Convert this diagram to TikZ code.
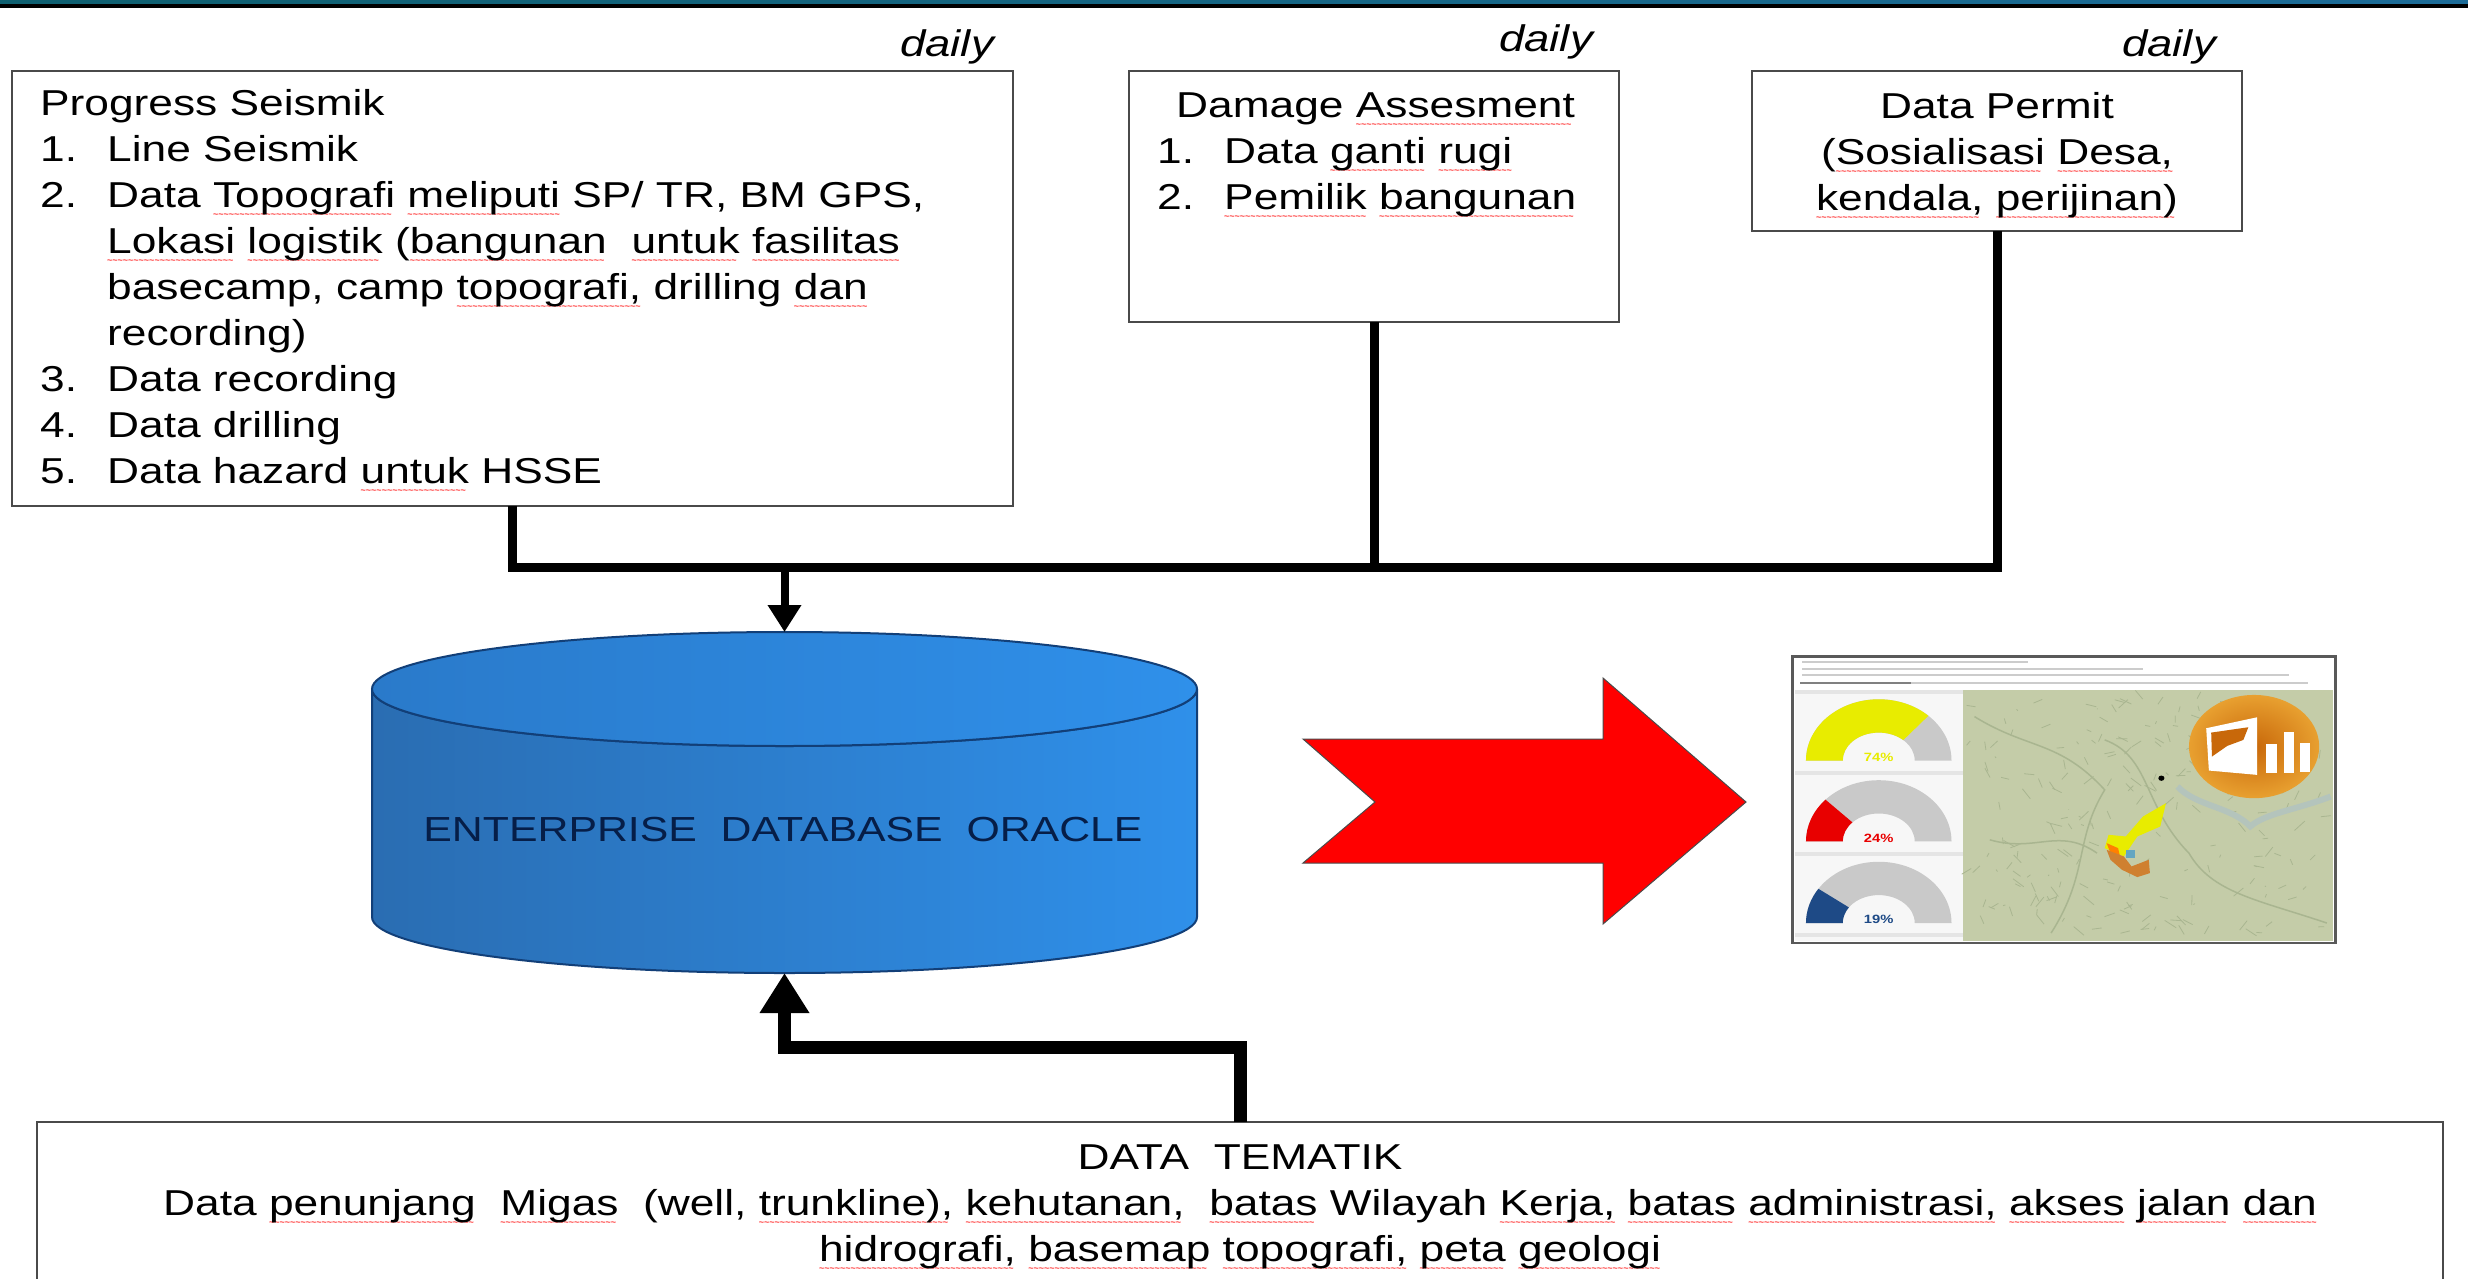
\documentclass[tikz,border=0pt]{standalone}
\usepackage{fontspec}
\usetikzlibrary{arrows.meta}
\usetikzlibrary{positioning}
\setmainfont[FakeStretch=1.23]{Liberation Sans}
\newfontfamily\wavefont{Liberation Sans}

\definecolor{bandleft}{HTML}{0F6070}
\definecolor{bandmid}{HTML}{3F9C98}
\definecolor{bandright}{HTML}{1D6C98}
\definecolor{boxline}{HTML}{4A4A4A}
\definecolor{dbline}{HTML}{123F78}
\definecolor{dbdark}{HTML}{2A6DB2}
\definecolor{dbbright}{HTML}{2F90EA}
\definecolor{dbtopdark}{HTML}{2A7ACA}
\definecolor{dbtext}{HTML}{061E48}
\definecolor{mapgreen}{HTML}{C4CCA8}
\definecolor{mapline}{HTML}{A9B590}
\definecolor{mapriver}{HTML}{B4C4BC}
\definecolor{gaugegray}{HTML}{C9C9C9}
\definecolor{gaugeyellow}{HTML}{E8EC00}
\definecolor{gaugered}{HTML}{E80000}
\definecolor{gaugeblue}{HTML}{1E4A86}
\definecolor{logodark}{HTML}{C8680A}
\definecolor{logoglow}{HTML}{E8A030}

% red wavy mark under a word
\newcommand{\sq}[1]{\leavevmode\setbox0\hbox{#1}\rlap{\lower10pt\hbox to\wd0{\leaders\hbox{\wavefont\bfseries\fontsize{9}{9}\selectfont\textcolor{red!80}{\char`\~}}\hfill}}\box0\relax}
\newcommand{\listnum}[1]{\makebox[67pt][l]{#1}}

\tikzset{
  bodytext/.style={font=\fontsize{36}{46}\selectfont, inner sep=0pt, text=black},
  dailytext/.style={font=\fontsize{37}{40}\selectfont\itshape, inner sep=0pt},
  infobox/.style={draw=boxline, line width=2.5pt, fill=white, inner sep=0pt, outer sep=0pt},
  busline/.style={line width=9pt, black},
  feedarrow/.style={line width=8pt, black, -{Triangle[length=27pt,width=32pt]}},
  thematicarrow/.style={line width=13pt, black, -{Triangle[length=40pt,width=47pt]}},
  gaugetext/.style={font=\fontsize{12}{12}\selectfont\bfseries, inner sep=0pt}
}

\begin{document}
\begin{tikzpicture}[x=1pt, y=-1pt]

\path[use as bounding box, clip] (0,0) rectangle (2468,1278);
\fill[white] (0,0) rectangle (2468,1278);

% top band
\shade[left color=bandleft, middle color=bandmid, right color=bandright] (0,0) rectangle (2468,5);
\fill[black] (0,4) rectangle (2468,8);

% source boxes
\node[infobox, minimum width=1001pt, minimum height=435pt] (seismicbox) at (512.5,288.5) {};
\node[infobox, minimum width=490pt, minimum height=251pt] (damagebox) at (1374,196.5) {};
\node[infobox, minimum width=490pt, minimum height=160pt] (permitbox) at (1997,151) {};
\node[infobox, minimum width=2406pt, minimum height=170pt] (tematikbox) at (1240,1207) {};

\node[dailytext] (dailyseismic) at (947,47) {daily};
\node[dailytext] (dailydamage) at (1546,42) {daily};
\node[dailytext] (dailypermit) at (2169,47) {daily};

\node[bodytext, align=left, anchor=west] (seismictext) at (40,291) {Progress Seismik\\
\listnum{1.}Line Seismik\\
\listnum{2.}Data \sq{Topografi} \sq{meliputi} SP/ TR, BM GPS,\\
\listnum{}\sq{Lokasi} \sq{logistik} (\sq{bangunan} \ \sq{untuk} \sq{fasilitas}\\
\listnum{}basecamp, camp \sq{topografi,} drilling \sq{dan}\\
\listnum{}recording)\\
\listnum{3.}Data recording\\
\listnum{4.}Data drilling\\
\listnum{5.}Data hazard \sq{untuk} HSSE};

\node[bodytext, align=left, anchor=west] (damagetext) at (1157,156) {\hspace*{19pt}Damage \sq{Assesment}\\
\listnum{1.}Data \sq{ganti} \sq{rugi}\\
\listnum{2.}\sq{Pemilik} \sq{bangunan}};

\node[bodytext, align=center] (permittext) at (1997,156) {Data Permit\\
(\sq{Sosialisasi} \sq{Desa,}\\
\sq{kendala,} \sq{perijinan)}};

\node[bodytext, align=center] (tematiktext) at (1240,1208) {DATA \ TEMATIK\\
Data \sq{penunjang} \ \sq{Migas} \ (well, \sq{trunkline),} \sq{kehutanan,} \ \sq{batas} Wilayah \sq{Kerja,} \sq{batas} \sq{administrasi,} \sq{akses} \sq{jalan} \sq{dan}\\
\sq{hidrografi,} \sq{basemap} \sq{topografi,} \sq{peta} \sq{geologi}};

% database
\shade[left color=dbdark, right color=dbbright, draw=dbline, line width=2pt]
  (372,689) -- (372,917) arc[start angle=180, end angle=0, x radius=412.5, y radius=56]
  -- (1197,689) arc[start angle=0, end angle=180, x radius=412.5, y radius=57] -- cycle;
\shade[left color=dbtopdark, right color=dbbright, draw=dbline, line width=2pt]
  (784.5,689) ellipse [x radius=412.5, y radius=57];
\node[font=\fontsize{34.8}{40}\selectfont, text=dbtext, inner sep=0pt] (dbtitle) at (783,830) {ENTERPRISE \ DATABASE \ ORACLE};
\coordinate (dbtop) at (784.5,632);
\coordinate (dbbottom) at (784.5,973);

% connectors
\coordinate (junction) at (784.5,567);
\draw[busline] (seismicbox.south) |- (junction);
\draw[busline] (damagebox.south) |- (junction);
\draw[busline] (permitbox.south) |- (junction);
\draw[feedarrow] (junction) -- (dbtop);
\draw[thematicarrow] (tematikbox.north) -- ++(0,-75) -| (dbbottom);

% red arrow
\fill[red, draw=boxline, line width=1pt] (1303,739) -- (1603,739) -- (1603,678) -- (1746,802)
  -- (1603,924) -- (1603,863) -- (1303,863) -- (1375,802) -- cycle;

% dashboard screenshot, in its own small units
\begin{scope}[shift={(1760,640)}, x=0.383pt, y=-0.333pt]
  \fill[white] (85,50) rectangle (1503,910);
  \fill[black!3] (92,150) rectangle (530,905);
  \fill[mapgreen] (530,150) rectangle (1497,905);
  % browser bars
  \foreach \by/\bend in {65/700, 88/1000, 106/1380, 130/1430} {
    \draw[black!20, line width=2pt] (110,\by) -- (\bend,\by);
  }
  \draw[black!50, line width=2pt] (105,130) -- (395,130);
  % panel bars
  \foreach \by in {155, 400, 643, 885} {
    \fill[black!10] (92,\by-6) rectangle (530,\by+6);
  }
  % gauges
  \foreach \gy/\gfill/\gend/\gnum/\gtexty in {362/gaugeyellow/313/74/352, 605/gaugered/223/24/597, 850/gaugeblue/214/19/840} {
    \begin{scope}[shift={(310,\gy)}]
      \fill[gaugegray] (180:190 and 184) arc[start angle=180, end angle=360, x radius=190, y radius=184]
        -- (0:94 and 84) arc[start angle=360, end angle=180, x radius=94, y radius=84] -- cycle;
      \fill[\gfill] (180:190 and 184) arc[start angle=180, end angle=\gend, x radius=190, y radius=184]
        -- (\gend:94 and 84) arc[start angle=\gend, end angle=180, x radius=94, y radius=84] -- cycle;
    \end{scope}
    \node[gaugetext, text=\gfill] (gauge\gnum) at (310,\gtexty) {\gnum\%};
  }
  % map detail
  \pgfmathsetseed{7}
  \foreach \i in {1,...,220} {
    \pgfmathsetmacro{\mx}{545+rnd*930}
    \pgfmathsetmacro{\my}{165+rnd*725}
    \pgfmathsetmacro{\mdx}{-30+rnd*60}
    \pgfmathsetmacro{\mdy}{-30+rnd*60}
    \draw[mapline, line width=0.8pt] (\mx,\my) -- ++(\mdx,\mdy);
  }
  \draw[mapline, line width=1.5pt] (560,230) .. controls (700,330) and (780,300) .. (900,450)
    .. controls (820,600) and (860,700) .. (760,880);
  \draw[mapline, line width=1.5pt] (900,300) .. controls (1020,350) and (1000,500) .. (1120,640)
    .. controls (1180,760) and (1300,780) .. (1480,850);
  \draw[mapline, line width=1.5pt] (600,600) .. controls (720,640) and (780,560) .. (880,640);
  \draw[mapriver, line width=6pt] (1090,440) .. controls (1140,500) and (1230,500) .. (1280,560)
    .. controls (1320,520) and (1400,510) .. (1490,470);
  \fill[gaugeyellow] (955,590) -- (1000,530) -- (1060,490) -- (1045,560) -- (985,590) -- (950,650) -- (900,625) -- (910,585) -- cycle;
  \fill[orange] (905,610) -- (935,625) -- (940,650) -- (915,640) -- cycle;
  \fill[brown!75!orange] (905,630) -- (950,650) -- (970,680) -- (1015,660) -- (1018,700) -- (985,712) -- (945,690) -- (915,660) -- cycle;
  \fill[cyan!50!gray] (955,630) rectangle (980,655);
  \fill[black] (1048,415) circle[radius=8];
  % logo
  \shade[inner color=logodark, outer color=logoglow] (1290,320) ellipse [x radius=170, y radius=155];
  \fill[white] (1165,265) -- (1298,232) -- (1298,405) -- (1172,392) -- cycle;
  \fill[logodark] (1178,278) -- (1275,262) -- (1262,300) -- (1220,318) -- (1180,350) -- cycle;
  \fill[white] (1322,312) rectangle (1350,400);
  \fill[white] (1367,275) rectangle (1395,400);
  \fill[white] (1411,310) rectangle (1435,395);
  % frame
  \draw[black!65, line width=2.5pt] (85,50) rectangle (1503,910);
\end{scope}

\end{tikzpicture}
\end{document}
